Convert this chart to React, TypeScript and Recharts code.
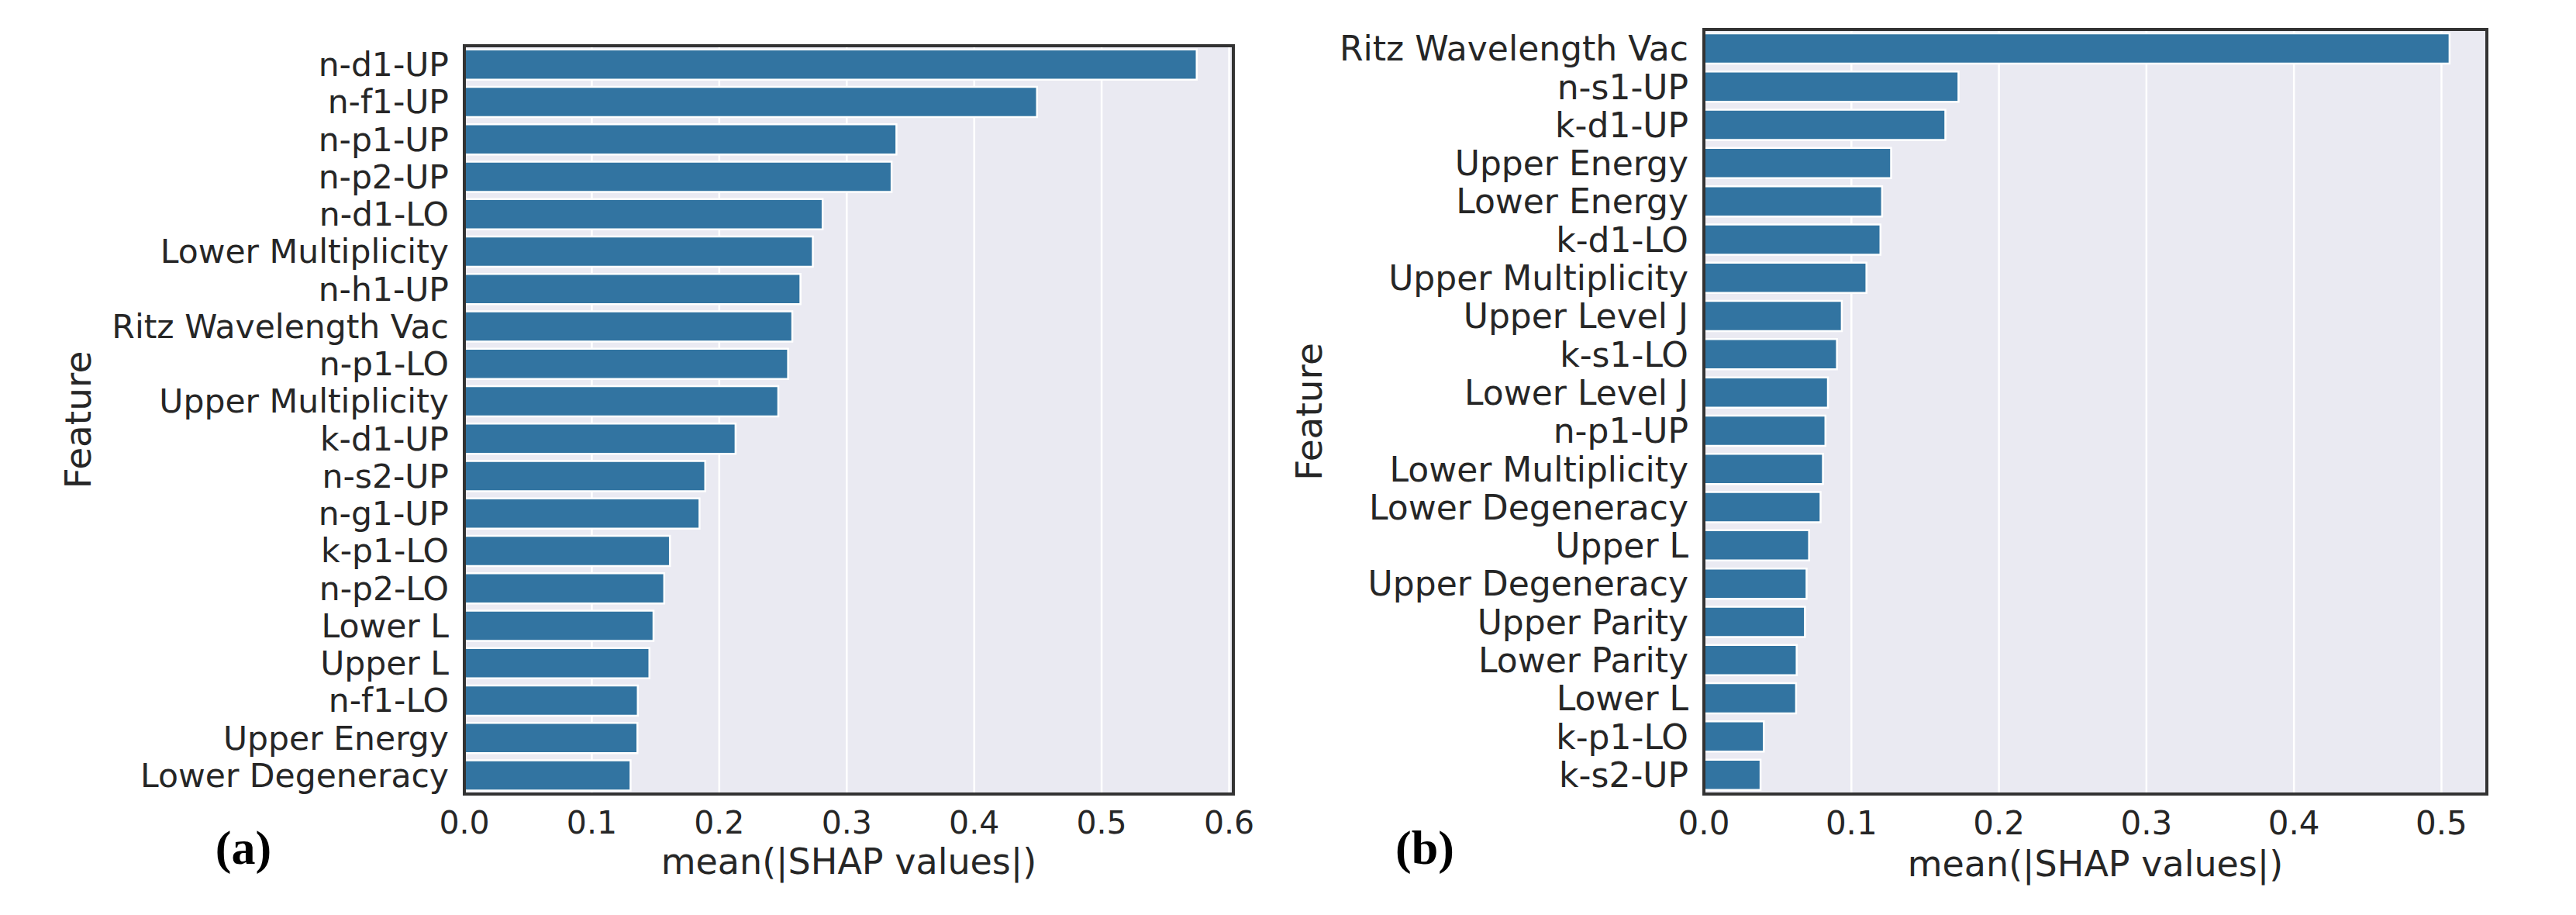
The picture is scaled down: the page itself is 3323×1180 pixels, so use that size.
import { BarChart, Bar, XAxis, YAxis, CartesianGrid, ReferenceArea } from 'recharts'

// (a) left panel
const leftFeatures = [
  'n-d1-UP', 'n-f1-UP', 'n-p1-UP', 'n-p2-UP', 'n-d1-LO',
  'Lower Multiplicity', 'n-h1-UP', 'Ritz Wavelength Vac', 'n-p1-LO', 'Upper Multiplicity',
  'k-d1-UP', 'n-s2-UP', 'n-g1-UP', 'k-p1-LO', 'n-p2-LO',
  'Lower L', 'Upper L', 'n-f1-LO', 'Upper Energy', 'Lower Degeneracy',
]
const leftValues = [
  0.5746, 0.4493, 0.3390, 0.3352, 0.2811,
  0.2734, 0.2637, 0.2573, 0.2540, 0.2463,
  0.2128, 0.1890, 0.1845, 0.1613, 0.1568,
  0.1484, 0.1452, 0.1361, 0.1358, 0.1304,
]
const leftTicks = [0, 0.1, 0.2, 0.3, 0.4, 0.5, 0.6]

// (b) right panel
const rightFeatures = [
  'Ritz Wavelength Vac', 'n-s1-UP', 'k-d1-UP', 'Upper Energy', 'Lower Energy',
  'k-d1-LO', 'Upper Multiplicity', 'Upper Level J', 'k-s1-LO', 'Lower Level J',
  'n-p1-UP', 'Lower Multiplicity', 'Lower Degeneracy', 'Upper L', 'Upper Degeneracy',
  'Upper Parity', 'Lower Parity', 'Lower L', 'k-p1-LO', 'k-s2-UP',
]
const rightValues = [
  0.5055, 0.1726, 0.1637, 0.1269, 0.1208,
  0.1197, 0.1102, 0.0935, 0.0902, 0.0841,
  0.0824, 0.0807, 0.0791, 0.0713, 0.0696,
  0.0685, 0.0629, 0.0625, 0.0406, 0.0384,
]
const rightTicks = [0, 0.1, 0.2, 0.3, 0.4, 0.5]

const BAR = '#3274a1'
const BG = '#eaeaf2'
const SPINE = '#333333'
const TEXT = '#262626'
const FONT = 'DejaVu Sans'

interface PanelProps {
  names: string[]
  values: number[]
  ticks: number[]
  width: number
  top: number
  right: number
  yAxisWidth: number
  tickFont: number
  yTickFont: number
  featureOffset: number
  xLabelOffset: number
}

function Panel({ names, values, ticks, width, top, right, yAxisWidth, tickFont, yTickFont, featureOffset, xLabelOffset }: PanelProps) {
  const data = names.map((name, i) => ({ name, value: values[i] }))
  const xMax = Math.max(...values) * 1.05
  const spine = { stroke: SPINE, strokeWidth: 4 }

  return (
    <BarChart
      width={width}
      height={1180}
      data={data}
      layout="vertical"
      margin={{ top, right, bottom: 0, left: 0 }}
      barCategoryGap="10%"
      style={{ fontFamily: FONT }}
    >
      <CartesianGrid horizontal={false} stroke="#ffffff" strokeWidth={2.5} fill={BG} fillOpacity={1} />
      {/* frame: top and right spines */}
      <ReferenceArea x1={0} x2={xMax} fill="none" fillOpacity={0} stroke={SPINE} strokeWidth={4} ifOverflow="extendDomain" />
      <XAxis
        type="number"
        domain={[0, xMax]}
        ticks={ticks}
        interval={0}
        allowDataOverflow
        height={156}
        tickSize={0}
        tickMargin={22}
        tickLine={false}
        axisLine={spine}
        tickFormatter={(v: number) => v.toFixed(1)}
        tick={{ fill: TEXT, fontSize: tickFont }}
        label={{
          value: 'mean(|SHAP values|)',
          position: 'insideTop',
          offset: xLabelOffset,
          style: { fill: TEXT, fontSize: 46, textAnchor: 'middle' },
        }}
      />
      <YAxis
        type="category"
        dataKey="name"
        width={yAxisWidth}
        interval={0}
        tickSize={0}
        tickMargin={20}
        tickLine={false}
        axisLine={spine}
        tick={{ fill: TEXT, fontSize: yTickFont }}
        label={{
          value: 'Feature',
          angle: -90,
          position: 'insideLeft',
          offset: featureOffset,
          style: { fill: TEXT, fontSize: 47, textAnchor: 'middle' },
        }}
      />
      <Bar dataKey="value" fill={BAR} stroke="#ffffff" strokeWidth={2.5} isAnimationActive={false} />
    </BarChart>
  )
}

export default function App() {
  return (
    <div style={{ position: 'absolute', left: 0, top: 0, width: 3323, height: 1180, background: '#ffffff', overflow: 'hidden' }}>
      <div style={{ position: 'absolute', left: 0, top: 0 }}>
        <Panel
          names={leftFeatures}
          values={leftValues}
          ticks={leftTicks}
          width={1620}
          top={59}
          right={29}
          yAxisWidth={599}
          tickFont={41}
          yTickFont={42.5}
          featureOffset={100}
          xLabelOffset={70}
        />
      </div>
      <div style={{ position: 'absolute', left: 1620, top: 0 }}>
        <Panel
          names={rightFeatures}
          values={rightValues}
          ticks={rightTicks}
          width={1703}
          top={38}
          right={115}
          yAxisWidth={578}
          tickFont={42}
          yTickFont={44}
          featureOffset={68}
          xLabelOffset={73}
        />
      </div>
      <svg width={3323} height={1180} style={{ position: 'absolute', left: 0, top: 0, pointerEvents: 'none' }}>
        <text x={314} y={1114} textAnchor="middle" fontFamily="Liberation Serif" fontWeight="bold" fontSize={62} fill="#000000">(a)</text>
        <text x={1838} y={1114} textAnchor="middle" fontFamily="Liberation Serif" fontWeight="bold" fontSize={62} fill="#000000">(b)</text>
      </svg>
    </div>
  )
}
